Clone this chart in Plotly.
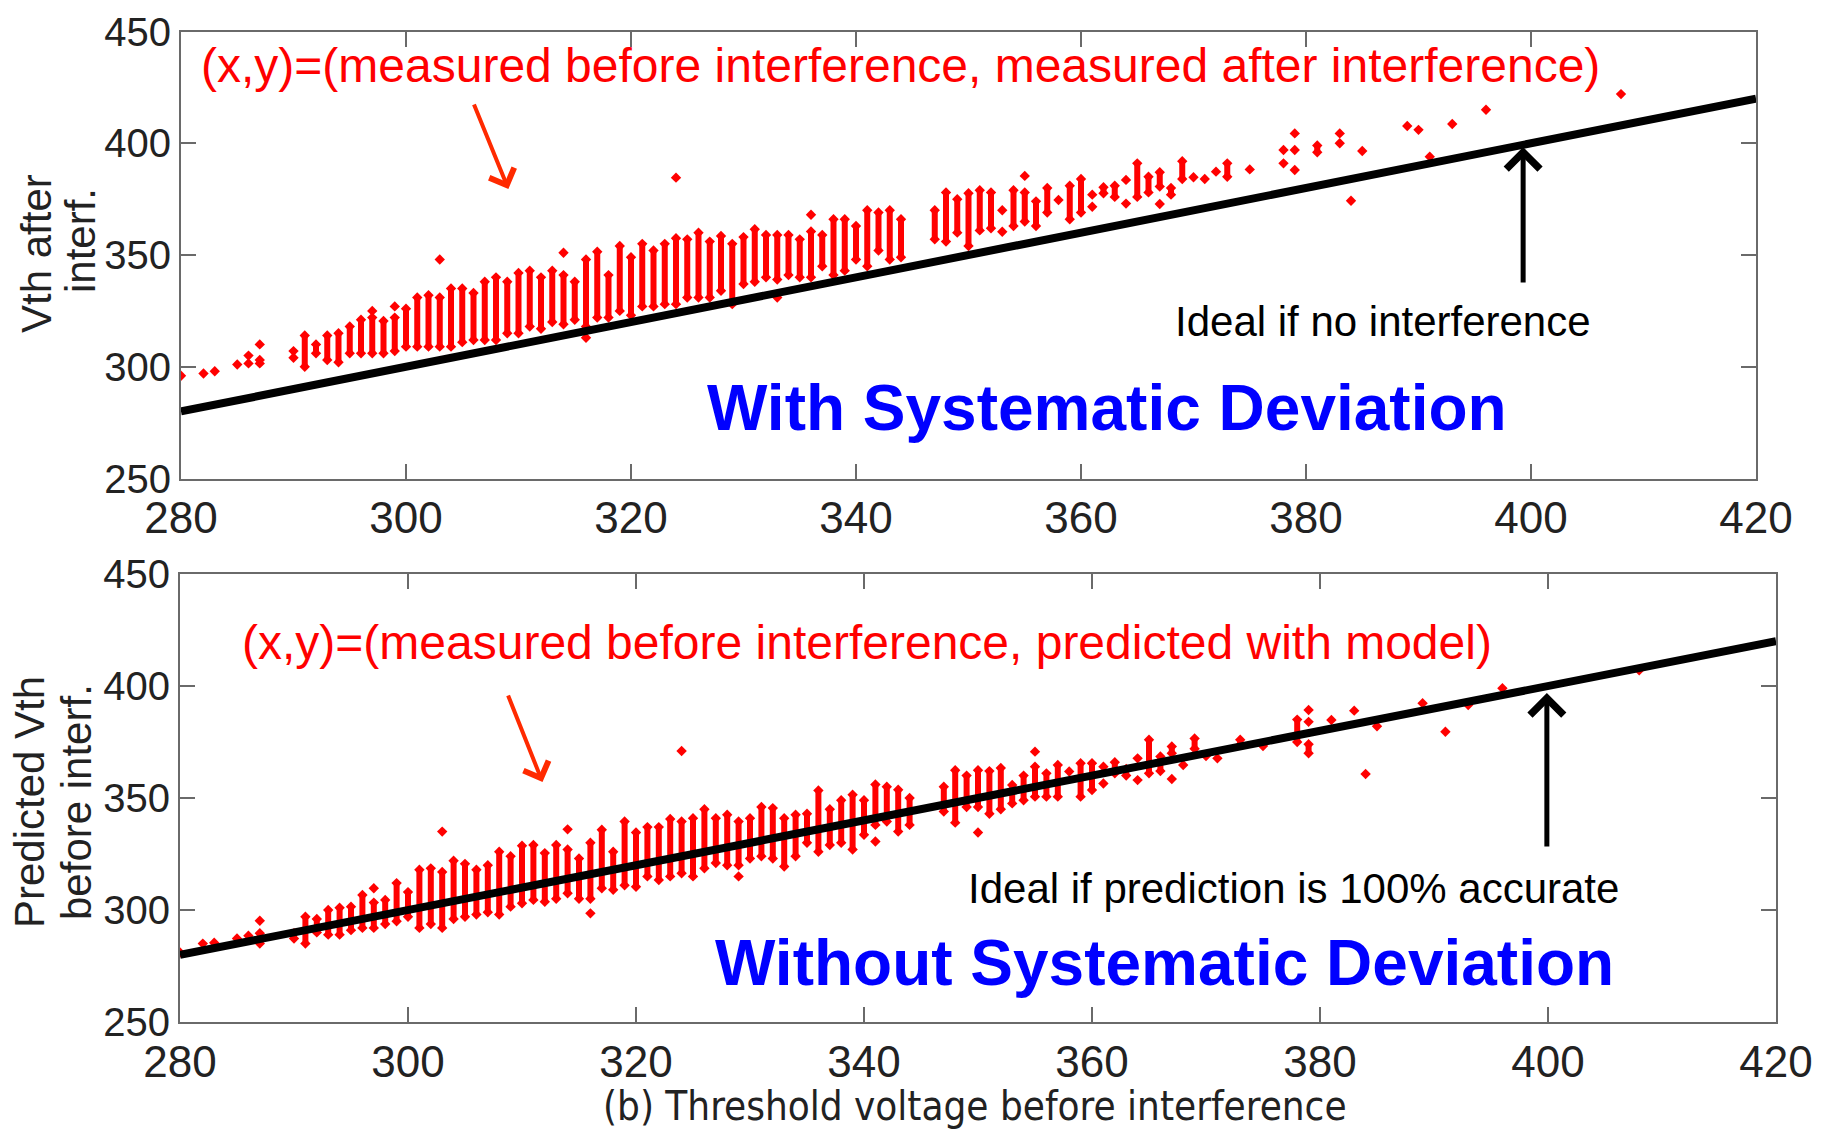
import plotly.graph_objects as go

W, H = 1830, 1133

# ---------------- data ----------------
# Top panel: (measured before interference, measured after interference)
top_col_x = [291, 292, 293, 294, 295, 296, 297, 298, 299, 300, 301, 302, 303, 304, 305, 306, 307, 308, 309, 310,
             311, 312, 313, 314, 315, 316, 317, 318, 319, 320, 321, 322, 323, 324, 325, 326, 327, 328, 329, 330,
             331, 332, 333, 334, 335, 336, 337, 338, 339, 340, 341, 342, 343, 344, 347, 348, 349, 350, 351, 352,
             354, 355, 356, 357, 359, 360, 362, 363, 365, 366, 367, 368, 369, 373, 381]
top_col_lo = [300, 306, 303, 302, 306, 306, 306, 306, 307, 309, 309, 309, 309, 309, 311, 312, 312, 312, 315, 315,
              318, 317, 320, 319, 321, 318, 322, 322, 325, 323, 327, 327, 328, 328, 331, 331, 331, 334, 328, 337,
              338, 340, 339, 341, 340, 340, 345, 341, 343, 348, 345, 352, 348, 349, 357, 356, 360, 354, 361, 362,
              363, 365, 363, 369, 366, 369, 377.6, 376, 376, 378, 380.6, 377, 384, 385, 396]
top_col_hi = [314, 310, 314, 315, 318, 321, 322, 320.5, 322, 326, 331, 332, 331, 335, 335, 333, 338, 340, 338, 342,
              343, 340, 343, 341, 338, 348, 351.5, 341, 354, 349, 355, 352, 355, 357.5, 357, 360, 356, 358.5, 355, 358,
              361.5, 359, 359, 359, 357, 360.5, 359, 366, 366, 363, 370, 369, 370, 366, 370, 378, 375, 377.6, 379, 378,
              379, 378, 374, 380, 381, 384, 380.3, 381, 391, 385, 387, 380, 392, 391, 399]
top_pt_x = [280, 282, 283, 285, 286, 286, 287, 287, 287, 290, 290, 297, 299, 303, 314, 316, 324, 333, 336, 353,
            353, 355, 358, 361, 361, 364, 364, 367, 370, 371, 372, 375, 378, 378, 379, 379, 379, 383, 383, 384,
            385, 389, 390, 391, 393, 396, 408]
top_pt_y = [296, 297, 298, 301, 305, 301.5, 310, 303, 301.5, 307, 304, 325, 327, 348, 351, 313, 384.6, 331, 368, 370,
            360.4, 385.4, 374.6, 377, 371.6, 383.6, 373, 372.8, 384.8, 384, 387.3, 388.3, 397, 391, 404.4, 397, 388,
            404.4, 400, 374.3, 396.5, 407.7, 406, 394, 408.6, 415, 422]

# Bottom panel: (measured before interference, predicted with model)
bot_col_x = [287, 290, 291, 292, 293, 294, 295, 296, 297, 298, 299, 300, 301, 302, 303, 304, 305, 306, 307, 308,
             309, 310, 311, 312, 313, 314, 315, 316, 317, 318, 319, 320, 321, 322, 323, 324, 325, 326, 327, 328,
             329, 330, 331, 332, 333, 334, 335, 336, 337, 338, 339, 340, 341, 342, 343, 344, 347, 348, 349, 350,
             351, 352, 353, 354, 355, 356, 357, 359, 360, 362, 363, 365, 366, 367, 369, 373, 378, 379]
bot_col_lo = [285, 287.3, 285, 290, 289, 289, 291, 292, 292, 293.7, 295, 297, 292, 293.7, 292, 296, 297, 298, 299, 298,
              301.5, 303, 304.5, 303.7, 305, 307.5, 305, 305, 309.7, 309, 311, 310.4, 315, 313.4, 315, 316.4, 315, 318.6, 321, 320,
              320, 323, 324, 323, 319.4, 324, 330, 326, 329, 330, 327, 333.6, 338, 339.5, 335, 338, 344, 339, 346, 346,
              343, 345, 347.6, 349, 350.6, 350.6, 350.6, 350.6, 353.6, 361, 360, 361, 362, 370, 372, 373.7, 375, 370]
bot_col_hi = [289.6, 289.6, 297, 296, 300, 301, 301.5, 306.7, 303.3, 304.5, 312, 308, 318, 318.6, 317, 322, 320.6, 318, 320, 326,
              324, 328.7, 329, 325.4, 329, 327, 323, 330, 335.8, 326, 339.5, 334.6, 337, 337, 340.6, 339.5, 341, 345, 341, 342.5,
              339.5, 341, 346, 345.5, 341, 342.5, 343, 353.4, 345, 349, 351.5, 349, 356, 355, 353.7, 350, 355, 362.4, 360, 362.4,
              362, 363.4, 355.8, 360, 364, 361, 364.7, 365.5, 365.5, 366, 363, 376, 368.5, 373, 376.6, 376, 385, 374]
bot_pt_x = [280, 282, 283, 285, 286, 287, 297, 303, 314, 316, 324, 329, 341, 350, 355, 358, 361, 361, 364, 364,
            367, 368, 370, 371, 375, 379, 379, 381, 383, 384, 385, 389, 391, 393, 396, 408]
bot_pt_y = [281, 285, 285.4, 287.3, 288.5, 295.2, 309.7, 335, 336, 298.5, 371, 315, 330.6, 334.6, 370.7, 361.8, 364, 356.5, 367.7, 358,
            358.5, 364.7, 368.7, 367.7, 373.2, 389.3, 384, 384.8, 389, 360.7, 382, 392.3, 379.6, 391.5, 399, 407]

# Ideal line y = x
ideal_x = [280, 420]
ideal_y = [280, 420]

x_ticks = [280, 300, 320, 340, 360, 380, 400, 420]
y_ticks = [250, 300, 350, 400, 450]

# ---------------- styling ----------------
RED = "#FF0000"
ARROW_RED = "#FF2A00"
BLUE = "#0000FF"
AXC = "#6a6a6a"
COND = "DejaVu Sans Condensed, Liberation Sans Narrow, Liberation Sans, sans-serif"
SANS = "Liberation Sans, Arial, sans-serif"


def px(v):
    return v / W


def py(v):
    return 1 - v / H


def segments(xs, lo, hi):
    sx, sy = [], []
    for x, a, b in zip(xs, lo, hi):
        sx += [x, x, None]
        sy += [a, b, None]
    return sx, sy


fig = go.Figure()

for xa, ya, cx, clo, chi, ptx, pty in [
    ("x", "y", top_col_x, top_col_lo, top_col_hi, top_pt_x, top_pt_y),
    ("x2", "y2", bot_col_x, bot_col_lo, bot_col_hi, bot_pt_x, bot_pt_y),
]:
    sx, sy = segments(cx, clo, chi)
    fig.add_trace(go.Scatter(x=sx, y=sy, mode="lines+markers", xaxis=xa, yaxis=ya,
                             line=dict(color=RED, width=6),
                             marker=dict(symbol="diamond", size=8, color=RED),
                             hoverinfo="skip", showlegend=False))
    fig.add_trace(go.Scatter(x=ptx, y=pty, mode="markers", xaxis=xa, yaxis=ya,
                             marker=dict(symbol="diamond", size=8, color=RED),
                             showlegend=False))
    fig.add_trace(go.Scatter(x=ideal_x, y=ideal_y, mode="lines", xaxis=xa, yaxis=ya,
                             line=dict(color="black", width=8), showlegend=False))

axis_common = dict(showgrid=False, zeroline=False, showline=True, linecolor=AXC, linewidth=2,
                   mirror="ticks", ticks="inside", ticklen=15, tickwidth=2, tickcolor=AXC,
                   automargin=False)

xfont = dict(family=SANS, size=44, color="#222")
yfont = dict(family=SANS, size=40, color="#222")

fig.update_layout(
    width=W, height=H,
    margin=dict(l=0, r=0, t=0, b=0, autoexpand=False),
    paper_bgcolor="white", plot_bgcolor="white",
    xaxis=dict(domain=[px(181), px(1756)], range=[280, 420], tickvals=x_ticks, anchor="y",
               tickfont=xfont, **axis_common),
    yaxis=dict(domain=[py(478.5), py(31.5)], range=[250, 450], tickvals=y_ticks, anchor="x",
               tickfont=yfont, **axis_common),
    xaxis2=dict(domain=[px(180), px(1776)], range=[280, 420], tickvals=x_ticks, anchor="y2",
                tickfont=xfont, **axis_common),
    yaxis2=dict(domain=[py(1022), py(574)], range=[250, 450], tickvals=y_ticks, anchor="x2",
                tickfont=yfont, **axis_common),
)

ann = []


def text(t, xp, yp, size, color, family=SANS, bold=False, angle=0):
    ann.append(dict(text=("<b>%s</b>" % t) if bold else t, x=px(xp), y=py(yp), xref="paper", yref="paper",
                    xanchor="center", yanchor="middle", showarrow=False, textangle=angle,
                    font=dict(family=family, size=size, color=color)))


text("(x,y)=(measured before interference, measured after interference)", 900, 66, 48, RED)
text("(x,y)=(measured before interference, predicted with model)", 867, 642, 48, RED)
text("Ideal if no interference", 1383, 322, 42, "black")
text("Ideal if prediction is 100% accurate", 1293, 888, 42, "black")
text("With Systematic Deviation", 1107, 408, 64, BLUE, bold=True)
text("Without Systematic Deviation", 1164, 963, 64, BLUE, bold=True)
text("(b) Threshold voltage before interference", 975, 1106, 40, "#222", family=COND)
text("Vth after", 36, 254, 42, "#222", family=SANS, angle=-90)
text("interf.", 80, 241, 42, "#222", family=SANS, angle=-90)
text("Predicted Vth", 29, 802, 42, "#222", family=SANS, angle=-90)
text("before interf.", 76, 802, 42, "#222", family=SANS, angle=-90)

# arrows (tip in data coordinates, tail offset in pixels)
for xr, yr, tx, ty, axp, ayp, col, wd in [
    ("x", "y", 309.1, 379.5, -35, -86, ARROW_RED, 4),
    ("x2", "y2", 311.8, 357.1, -35, -88, ARROW_RED, 4),
    ("x", "y", 399.3, 398.3, 0, 137, "black", 5),
    ("x2", "y2", 399.9, 396.9, 0, 155, "black", 5),
]:
    ann.append(dict(x=tx, y=ty, xref=xr, yref=yr, ax=axp, ay=ayp, text="", showarrow=True,
                    arrowhead=4, arrowsize=1.3, arrowwidth=wd, arrowcolor=col))

fig.update_layout(annotations=ann)

fig.write_html("out.html")
